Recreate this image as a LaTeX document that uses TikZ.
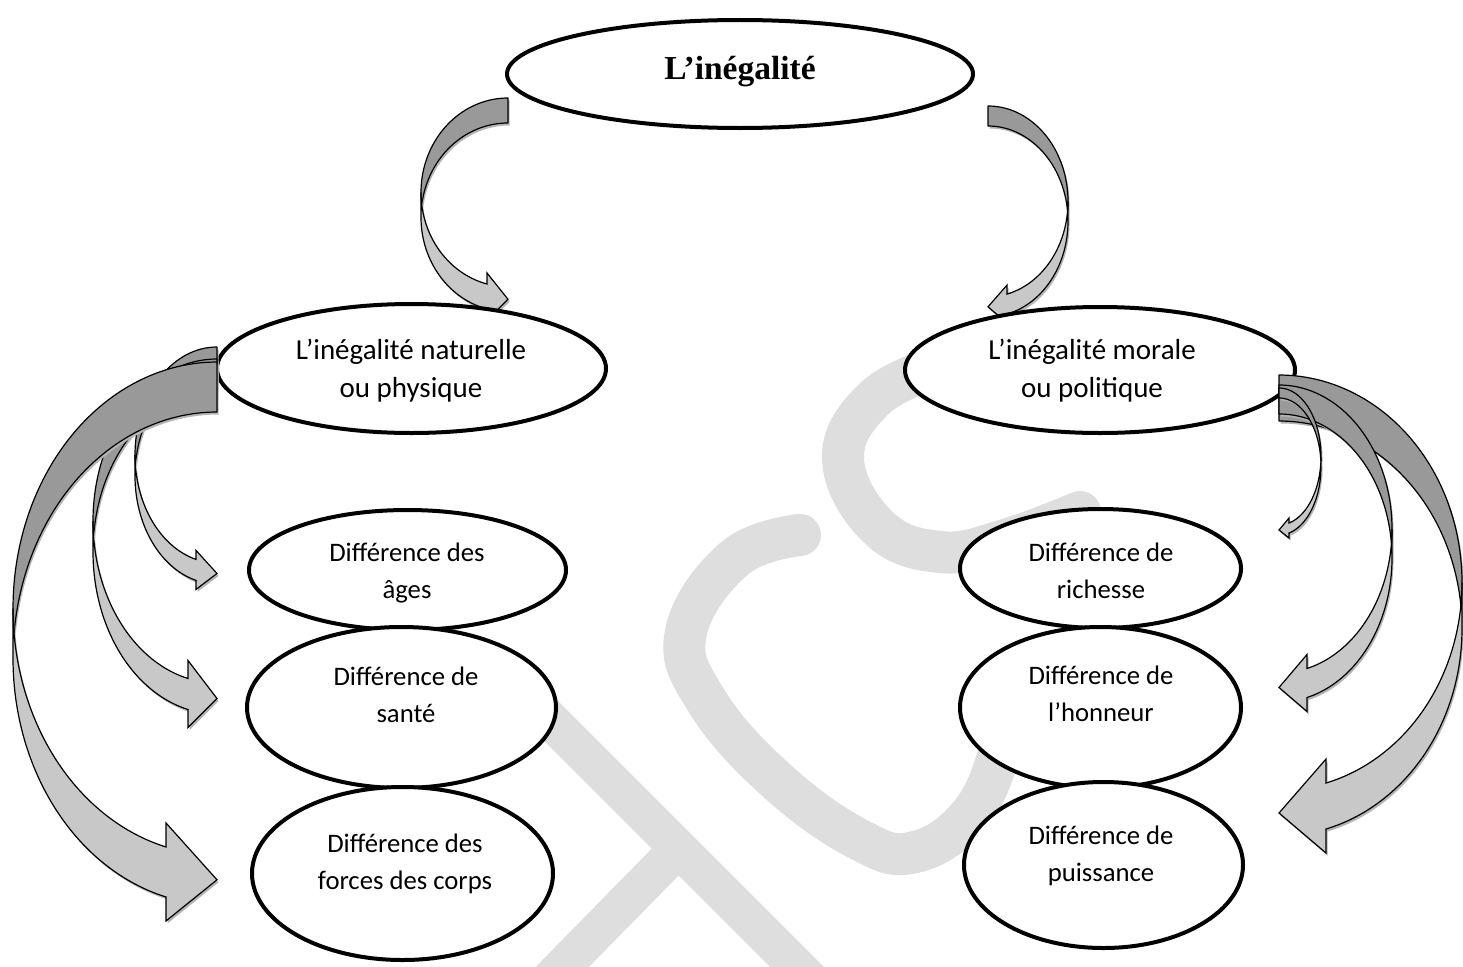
\documentclass[tikz,border=0pt]{standalone}
\usepackage{fontspec}
\setmainfont{Carlito}
\newfontfamily\titlefont{Liberation Serif}
\usetikzlibrary{shapes.geometric}
\definecolor{wm}{HTML}{DEDEDE}
\definecolor{backg}{HTML}{999999}
\definecolor{frontg}{HTML}{C8C8C8}
\definecolor{shad}{HTML}{B4B4B4}
\newcommand{\mytwo}[2]{\strut #1\\\strut #2}
\newcommand{\curvarrow}[8]{%
 \pgfmathsetmacro\cxT{#1}\pgfmathsetmacro\ctop{#2}\pgfmathsetmacro\cs{#3}%
 \pgfmathsetmacro\cW{#4}\pgfmathsetmacro\chR{#5}\pgfmathsetmacro\cth{#6}%
 \pgfmathsetmacro\caw{#7}\pgfmathsetmacro\cah{#8}%
 \pgfmathsetmacro\cyA{\ctop+\chR}%
 \pgfmathsetmacro\cyB{\cyA+\cth}%
 \pgfmathsetmacro\cdd{asin(\cth/(2*\chR))}%
 \pgfmathsetmacro\cdA{90+\cdd}%
 \pgfmathsetmacro\cdB{90-\cdd}%
 \pgfmathsetmacro\cae{180-asin(\cah/\cW)}%
 \pgfmathsetmacro\cxe{\cxT-(\cs)*\cah}%
 \pgfmathsetmacro\ccf{sqrt(1-(\cah/\cW)^2)}%
 \pgfmathsetmacro\cyv{\cyA+\chR*\ccf}%
 \pgfmathsetmacro\cyvii{\cyB+\chR*\ccf}%
 \pgfmathsetmacro\cdh{(\caw-\cth)/2}%
 \pgfmathsetmacro\cyiv{\cyv-\cdh}%
 \pgfmathsetmacro\cyviii{\cyvii+\cdh}%
 \pgfmathsetmacro\cyvi{\ctop+2*\chR+\cth/2}%
 \path[backpart] plot[domain=0:\cdA, samples=60, variable=\t] ({\cxT-(\cs)*\cW*sin(\t)},{\cyA-\chR*cos(\t)})
   -- plot[domain=\cdB:0, samples=60, variable=\t] ({\cxT-(\cs)*\cW*sin(\t)},{\cyB-\chR*cos(\t)}) -- cycle;
 \path[frontpart] plot[domain=90:\cae, samples=60, variable=\t] ({\cxT-(\cs)*\cW*sin(\t)},{\cyA-\chR*cos(\t)})
   -- (\cxe,\cyiv) -- (\cxT,\cyvi) -- (\cxe,\cyviii) -- (\cxe,\cyvii)
   -- plot[domain=\cae:90, samples=60, variable=\t] ({\cxT-(\cs)*\cW*sin(\t)},{\cyB-\chR*cos(\t)}) -- cycle;
}
\begin{document}
\begin{tikzpicture}[x=1pt,y=-1pt,
  ell/.style={ellipse, draw=black, line width=4pt, fill=white, inner sep=0pt},
  lbl/.style={align=center, font=\fontsize{26.7}{37}\selectfont, inner sep=0pt},
  biglbl/.style={align=center, font=\fontsize{29}{38}\selectfont, inner sep=0pt},
  backpart/.style={fill=backg, draw=black, line width=1.2pt, line join=round,
     preaction={fill=shad, draw=none, transform canvas={shift={(1.5,2.5)}}}},
  frontpart/.style={fill=frontg, draw=black, line width=1.2pt, line join=miter,
     preaction={fill=shad, draw=none, transform canvas={shift={(1.5,2.5)}}}},
  wmstroke/.style={draw=wm, line width=42pt, line cap=round, line join=round}]
\useasboundingbox (0,0) rectangle (1463,966);
\fill[white] (0,0) rectangle (1463,966);

% watermark
\begin{scope}
\clip (0,0) rectangle (1463,966);
\draw[wmstroke] plot[smooth, tension=0.7] coordinates {(935,368) (875,398) (843,458) (878,527) (940,552) (1005,540) (1080,512)};
\draw[wmstroke] plot[smooth, tension=0.7] coordinates {(800,535) (735,558) (686,632) (706,700) (776,780) (860,840) (915,852) (970,815) (1000,750) (1005,700)};
\draw[wmstroke, line width=38pt, line cap=butt] (520,690) -- (830,1000);
\draw[wmstroke, line width=38pt, line cap=butt] (679,848) -- (520,1010);
\end{scope}

% top arrows
\curvarrow{508}{98}{1}{87}{94.4}{25}{47}{21}
\curvarrow{988}{106}{-1}{80}{95.4}{20}{38}{19}

% main ellipses
\node[ell, minimum width=466pt, minimum height=108pt] (top) at (740,74) {};
\node[anchor=base, inner sep=0pt, font=\titlefont\bfseries\fontsize{33.5}{40}\selectfont] (toplbl) at (740,79) {L’inégalité};
\node[ell, minimum width=389pt, minimum height=129pt] (nat) at (411.5,368.5) {};
\node[biglbl] (natlbl) at (411,371) {\mytwo{L’inégalité naturelle}{ou physique}};
\node[ell, minimum width=390pt, minimum height=126pt] (mor) at (1100,370) {};
\node[biglbl] (morlbl) at (1092,371) {\mytwo{L’inégalité morale}{ou politique}};

% left arrows
\curvarrow{217}{347}{1}{82}{108}{21}{39}{21}
\curvarrow{217}{359}{1}{124}{162}{31}{67}{29}
\curvarrow{217}{362}{1}{204}{246.4}{50}{98}{51}

% right arrows
\curvarrow{1279}{375}{-1}{183}{207.5}{46}{94}{47}
\curvarrow{1279}{385}{-1}{113}{144}{29}{57}{28}
\curvarrow{1279}{388}{-1}{42}{68.5}{10}{20}{10}

% left column
\node[ell, minimum width=317pt, minimum height=120pt] (ages) at (407.5,570) {};
\node[lbl] (ageslbl) at (407,572.5) {\mytwo{Différence des}{âges}};
\node[ell, minimum width=309pt, minimum height=161pt] (sante) at (401.5,707.5) {};
\node[lbl] (santelbl) at (406,697) {\mytwo{Différence de}{santé}};
\node[ell, minimum width=301pt, minimum height=173pt] (forces) at (402.5,873.5) {};
\node[lbl] (forceslbl) at (405,864) {\mytwo{Différence des}{forces des corps}};

% right column
\node[ell, minimum width=281pt, minimum height=119pt] (rich) at (1100.5,568.5) {};
\node[lbl] (richlbl) at (1101,572.5) {\mytwo{Différence de}{richesse}};
\node[ell, minimum width=281pt, minimum height=161pt] (honn) at (1100.5,707.5) {};
\node[lbl] (honnlbl) at (1101,696) {\mytwo{Différence de}{l’honneur}};
\node[ell, minimum width=279pt, minimum height=166pt] (puis) at (1103.5,865) {};
\node[lbl] (puislbl) at (1101,855.5) {\mytwo{Différence de}{puissance}};
\end{tikzpicture}
\end{document}
